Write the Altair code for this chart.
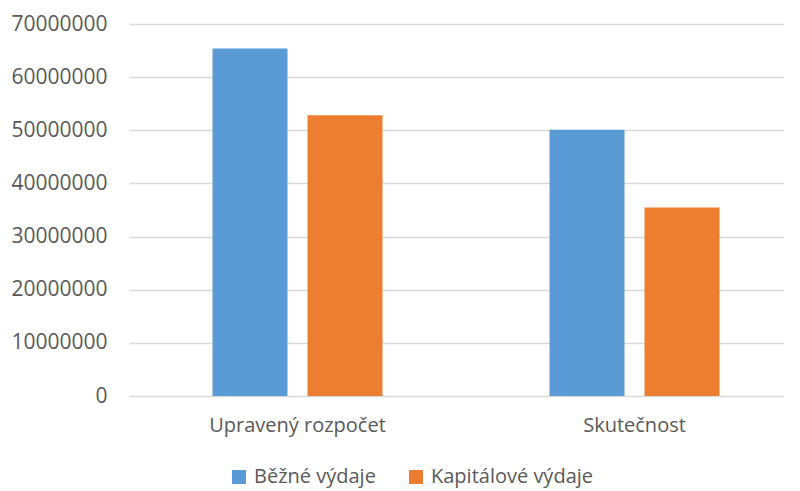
import altair as alt
import pandas as pd

categories = ["Upravený rozpočet", "Skutečnost"]
series = ["Běžné výdaje", "Kapitálové výdaje"]
bezne = [65400000, 50100000]
kapitalove = [52850000, 35450000]
colors = ["#5B9BD5", "#ED7D31"]

rows = []
for i, c in enumerate(categories):
    rows.append({"kat": c, "serie": series[0], "hodnota": bezne[i]})
    rows.append({"kat": c, "serie": series[1], "hodnota": kapitalove[i]})
df = pd.DataFrame(rows)

FONT = "Open Sans"
GRAY = "#595959"

chart = (
    alt.Chart(df)
    .mark_bar()
    .encode(
        x=alt.X(
            "kat:N",
            sort=categories,
            title=None,
            scale=alt.Scale(range=[0, 674], paddingInner=0, paddingOuter=0),
            axis=alt.Axis(
                labelAngle=0,
                domain=False,
                ticks=False,
                labelFont=FONT,
                labelFontSize=20,
                labelColor=GRAY,
                labelPadding=19,
            ),
        ),
        xOffset=alt.XOffset(
            "serie:N",
            sort=series,
            scale=alt.Scale(paddingInner=0.2105, paddingOuter=0.879),
        ),
        y=alt.Y(
            "hodnota:Q",
            title=None,
            scale=alt.Scale(domain=[0, 70000000], nice=False),
            axis=alt.Axis(
                values=[0, 10000000, 20000000, 30000000, 40000000, 50000000, 60000000, 70000000],
                format="d",
                domain=False,
                ticks=False,
                labelFont=FONT,
                labelFontSize=21,
                labelColor=GRAY,
                labelPadding=22,
                gridColor="#D9D9D9",
                gridWidth=1.3,
            ),
        ),
        color=alt.Color(
            "serie:N",
            sort=series,
            scale=alt.Scale(domain=series, range=colors),
            legend=alt.Legend(
                title=None,
                orient="none",
                direction="horizontal",
                legendX=100,
                legendY=443,
                symbolType="square",
                symbolSize=196,
                symbolStrokeWidth=0,
                labelFont=FONT,
                labelFontSize=20,
                labelColor=GRAY,
                labelOffset=5,
                columnPadding=30,
                labelLimit=400,
            ),
        ),
    )
    .properties(
        width=655,
        height=372,
        autosize=alt.AutoSizeParams(type="none"),
        padding={"left": 121, "top": 16, "right": 0, "bottom": 92},
    )
    .configure_view(stroke=None)
)

chart.save("out.html", embed_options={"renderer": "svg", "actions": False})
